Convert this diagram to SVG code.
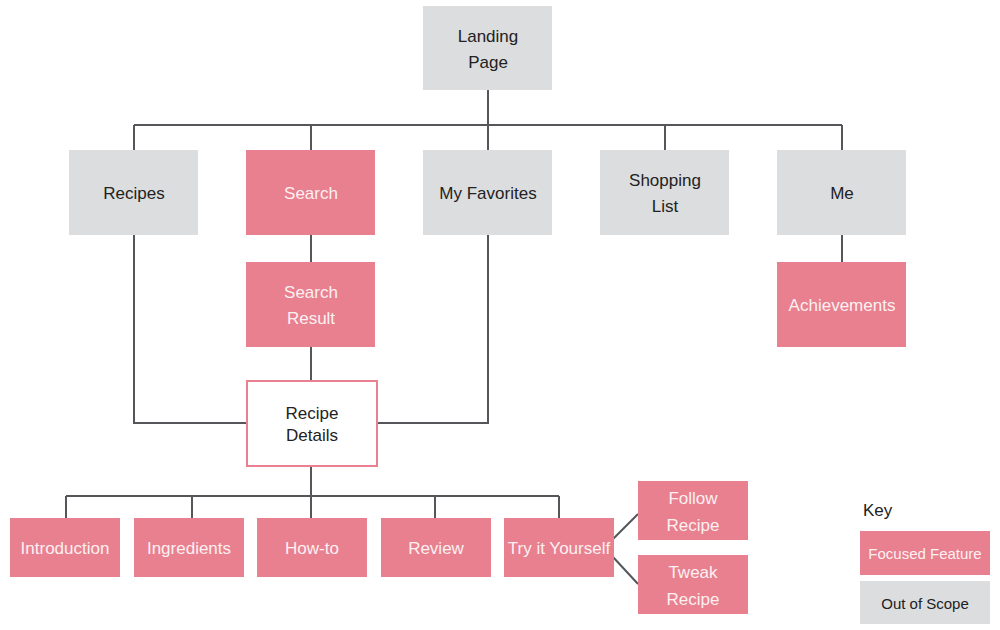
<svg xmlns="http://www.w3.org/2000/svg" width="1000" height="630" viewBox="0 0 1000 630">
<style>
.g{fill:#dcdddf}
.p{fill:#e8808f}
.w{fill:#fff;stroke:#e8808f;stroke-width:2}
text{font-family:"Liberation Sans",Arial,sans-serif;font-size:17px;text-anchor:middle}
.dt{fill:#222}
.lt{fill:#fdf0f2}
.c{fill:none;stroke:#54565a;stroke-width:2}
</style>
<rect width="1000" height="630" fill="#fff"/>
<g id="connectors" class="c">
<path d="M488 90V125M134 125H842M134 125V150M311 125V150M488 125V150M665 125V150M842 125V150"/>
<path d="M311 235V262M311 347V381"/>
<path d="M842 235V262"/>
<path d="M134 235V423H247M488 235V423H377"/>
<path d="M311 466V496M66 496H559M66 496V518M192 496V518M311 496V518M435 496V518M559 496V518"/>
<path d="M613 539L638 514M613 557L638 584"/>
</g>
<g id="landing"><rect class="g" x="423" y="6" width="129" height="84"/><text class="dt" x="488" y="42">Landing</text><text class="dt" x="488" y="68">Page</text></g>
<g id="recipes"><rect class="g" x="69" y="150" width="129" height="85"/><text class="dt" x="134" y="199">Recipes</text></g>
<g id="search"><rect class="p" x="246" y="150" width="129" height="85"/><text class="lt" x="311" y="199">Search</text></g>
<g id="favorites"><rect class="g" x="423" y="150" width="129" height="85"/><text class="dt" x="488" y="199">My Favorites</text></g>
<g id="shopping"><rect class="g" x="600" y="150" width="129" height="85"/><text class="dt" x="665" y="186">Shopping</text><text class="dt" x="665" y="212">List</text></g>
<g id="me"><rect class="g" x="777" y="150" width="129" height="85"/><text class="dt" x="842" y="199">Me</text></g>
<g id="searchresult"><rect class="p" x="246" y="262" width="129" height="85"/><text class="lt" x="311" y="298">Search</text><text class="lt" x="311" y="324">Result</text></g>
<g id="achievements"><rect class="p" x="777" y="262" width="129" height="85"/><text class="lt" x="842" y="311">Achievements</text></g>
<g id="details"><rect class="w" x="247" y="381" width="130" height="85"/><text class="dt" x="312" y="419">Recipe</text><text class="dt" x="312" y="441">Details</text></g>
<g id="intro"><rect class="p" x="10" y="518" width="110" height="59"/><text class="lt" x="65" y="554">Introduction</text></g>
<g id="ingredients"><rect class="p" x="134" y="518" width="110" height="59"/><text class="lt" x="189" y="554">Ingredients</text></g>
<g id="howto"><rect class="p" x="257" y="518" width="110" height="59"/><text class="lt" x="312" y="554">How-to</text></g>
<g id="review"><rect class="p" x="381" y="518" width="110" height="59"/><text class="lt" x="436" y="554">Review</text></g>
<g id="try"><rect class="p" x="504" y="518" width="110" height="59"/><text class="lt" x="559" y="554">Try it Yourself</text></g>
<g id="follow"><rect class="p" x="638" y="481" width="110" height="59"/><text class="lt" x="693" y="504">Follow</text><text class="lt" x="693" y="531">Recipe</text></g>
<g id="tweak"><rect class="p" x="638" y="555" width="110" height="59"/><text class="lt" x="693" y="578">Tweak</text><text class="lt" x="693" y="605">Recipe</text></g>
<g id="key">
<text class="dt" x="863" y="516" style="text-anchor:start">Key</text>
<rect class="p" x="860" y="531" width="130" height="44"/><text class="lt" x="925" y="559" style="font-size:15px">Focused Feature</text>
<rect class="g" x="860" y="581" width="130" height="43"/><text class="dt" x="925" y="609" style="font-size:15px">Out of Scope</text>
</g>
</svg>
